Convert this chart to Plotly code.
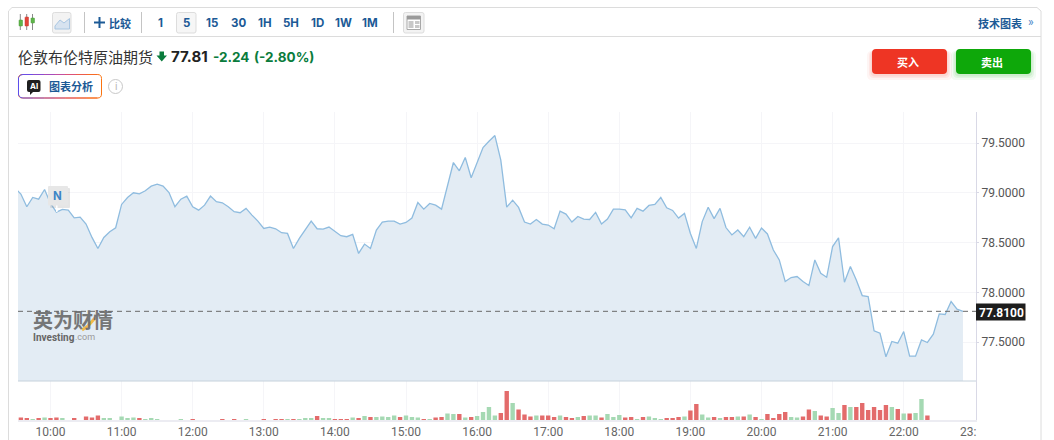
import plotly.graph_objects as go

W, H = 1054, 440

# ---------- data ----------
start_minute = 9 * 60 + 30      # first 5-minute close (clipped by the left edge)
price = [
    79.047, 78.987, 78.860, 78.953, 78.936, 79.033,
    78.893, 78.806, 78.833, 78.826, 78.749, 78.756, 78.686, 78.552, 78.441, 78.552, 78.609, 78.649,
    78.883, 78.953, 79.000, 78.990, 79.020, 79.067, 79.087, 79.067, 79.003, 78.860, 78.936, 78.967,
    78.860, 78.826, 78.876, 78.967, 78.910, 78.900, 78.860, 78.810, 78.800, 78.843, 78.776, 78.716,
    78.642, 78.656, 78.639, 78.599, 78.592, 78.441, 78.542, 78.632, 78.716, 78.639, 78.635, 78.656,
    78.609, 78.569, 78.559, 78.582, 78.391, 78.485, 78.441, 78.625, 78.706, 78.716, 78.716, 78.686,
    78.702, 78.746, 78.903, 78.836, 78.893, 78.876, 78.836, 79.077, 79.304, 79.221, 79.355, 79.151,
    79.301, 79.455, 79.518, 79.575, 79.328, 78.856, 78.926, 78.853, 78.706, 78.686, 78.732, 78.686,
    78.676, 78.639, 78.816, 78.786, 78.706, 78.763, 78.736, 78.732, 78.803, 78.686, 78.736, 78.836,
    78.836, 78.829, 78.749, 78.843, 78.816, 78.873, 78.883, 78.953, 78.849, 78.823, 78.746, 78.793,
    78.592, 78.441, 78.711, 78.855, 78.741, 78.844, 78.651, 78.577, 78.627, 78.560, 78.654, 78.543,
    78.647, 78.587, 78.426, 78.326, 78.109, 78.149, 78.159, 78.109, 78.069, 78.326, 78.192, 78.152,
    78.460, 78.547, 78.102, 78.259, 78.125, 77.968, 77.958, 77.614, 77.590, 77.353, 77.507, 77.490,
    77.607, 77.360, 77.360, 77.523, 77.497, 77.580, 77.784, 77.778, 77.908, 77.831, 77.810,
]
last_price = 77.81

volume_start_minute = 9 * 60 + 35
# positive: up bar (green), negative: down bar (red)
signed_volume = [
    -2.5, -1.2, 0.8, -1.2, 2.5,
    -1.2, -2.5, 1.2, 0, -1.2, 0, -3.5, -2.5, -4.5, 1.2, 1.2, 0,
    3.5, 1.2, 2.5, -1.2, 0.8, 1.2, 0.8, 0, 0, 0, 0.8, 0,
    -0.8, 0, 0, 0, 0, -0.8, 0, -0.8, 0, 0.8, 0, 0,
    -0.8, 0, -0.8, -0.8, 0.8, -0.8, 0.8, 2, 1.2, -4, 2, 2,
    -0.8, -0.8, -0.8, 2.5, -1.2, 4, -3, 3, 3.5, 3, 4.5, -3,
    4.5, 3, 2.5, -1, 0.8, -2.5, -3, 6.5, 6, -6, 2.5, -3,
    4, 8, 13, 4.5, -7, -29, 17, -10.5, -5.5, -3.5, 4.5, -4.5,
    -4.5, -3, 4.5, -3, -2, 3, -4, 4.5, 4.5, -2.5, 6, 3,
    5, -2.5, -3, 1, -3, 3.5, 1.5, 0.8, -2, -2, -3, 3.5,
    -9.5, -16, 5.5, 2.5, -3, 2, -3, -3, 3.5, -3.5, 5.5, -3,
    0.8, -6, -2, -6, -8, 3, 2.5, -3.5, -10.5, 9, -4.5, -3.5,
    12, 7, -15, 13, -13, -17, -10, -13, -10, -15, 13, -11,
    6.5, -6.5, 7, 21, -4.5,
]

time_ticks = [h * 60 for h in range(10, 23)]
time_labels = [f"{h}:00" for h in range(10, 23)]
price_ticks = [77.5, 78.0, 78.5, 79.0, 79.5]
intervals = ["1", "5", "15", "30", "1H", "5H", "1D", "1W", "1M"]
title = "伦敦布伦特原油期货"

# ---------- colours ----------
BLUE = "#1c5a96"
UP = "#a5d9b3"
DOWN = "#e36b6b"
GREEN_TXT = "#0a7c3c"
CJK = "Noto Sans CJK SC"
NUM = "Inter"
AX = "Roboto"

# ---------- pixel helpers for page furniture ----------
def fx(x):
    return x / W

def fy(y):
    return 1 - y / H

shapes = []
annots = []

def path(points, close=False, fill=None, line=None, lw=1, layer="above", opacity=1):
    d = "M" + " L".join(f"{fx(a):.5f},{fy(b):.5f}" for a, b in points) + (" Z" if close else "")
    shapes.append(dict(type="path", path=d, xref="paper", yref="paper", layer=layer, opacity=opacity,
                       fillcolor=fill if fill else "rgba(0,0,0,0)",
                       line=dict(color=line if line else "rgba(0,0,0,0)", width=lw if line else 0)))

def rrect(x0, y0, x1, y1, r=3, fill=None, line=None, lw=1, opacity=1, layer="above"):
    p = lambda a, b: f"{fx(a):.5f},{fy(b):.5f}"
    d = (f"M{p(x0 + r, y0)} L{p(x1 - r, y0)} Q{p(x1, y0)} {p(x1, y0 + r)} L{p(x1, y1 - r)} "
         f"Q{p(x1, y1)} {p(x1 - r, y1)} L{p(x0 + r, y1)} Q{p(x0, y1)} {p(x0, y1 - r)} L{p(x0, y0 + r)} "
         f"Q{p(x0, y0)} {p(x0 + r, y0)} Z")
    shapes.append(dict(type="path", path=d, xref="paper", yref="paper", layer=layer, opacity=opacity,
                       fillcolor=fill if fill else "rgba(0,0,0,0)",
                       line=dict(color=line if line else "rgba(0,0,0,0)", width=lw if line else 0)))

def seg(x0, y0, x1, y1, color, lw=1, dash=None, layer="above"):
    shapes.append(dict(type="line", xref="paper", yref="paper", x0=fx(x0), y0=fy(y0), x1=fx(x1), y1=fy(y1),
                       layer=layer, line=dict(color=color, width=lw, dash=dash or "solid")))

def text(x, y, s, size, color, family=CJK, anchor="center", opacity=1):
    annots.append(dict(x=fx(x), y=fy(y), xref="paper", yref="paper", text=s, showarrow=False, xanchor=anchor,
                       yanchor="middle", borderpad=0, borderwidth=0, opacity=opacity,
                       font=dict(size=size, color=color, family=family)))

# ---------- page frame & toolbar ----------
path([(8.5, 445), (8.5, 11), (12, 7.5), (1037, 7.5), (1041, 11), (1041, 445)], line="#dcdcdc", lw=1)
seg(8.5, 36.5, 1041, 36.5, "#dcdcdc")

# candle icon
for xw in (20.3, 26.7, 32.5):
    seg(xw, 14, xw, 30, "#8a8a8a", 1)
rrect(19, 20, 22.5, 26, 0.5, fill="#5fb54a", line="#4a9a3a", lw=0.5)
rrect(25, 17, 28.5, 26, 0.5, fill="#e2453a", line="#c93a30", lw=0.5)
rrect(31, 18, 34.5, 23, 0.5, fill="#5fb54a", line="#4a9a3a", lw=0.5)

# line-chart icon
rrect(52.5, 12.5, 71, 33, 2, fill="#f3f3f3", line="#dddddd")
path([(55, 26), (60, 20), (64, 23), (69.5, 18.5), (69.5, 29), (55, 29)], close=True, fill="#d7e3f0", line="#a9c6e2", lw=1)

seg(84.5, 12, 84.5, 33, "#c4c4c4")
seg(94, 22.5, 105, 22.5, BLUE, 2)
seg(99.5, 17, 99.5, 28, BLUE, 2)
text(120.5, 22.5, "<b>比较</b>", 11, BLUE)
seg(141.5, 12, 141.5, 33, "#c4c4c4")

rrect(176.5, 12.5, 196, 33, 2, fill="#f6f6f6", line="#dddddd")
interval_x = [160, 186, 212, 238.5, 264.5, 291, 317, 343, 370]
for lab, xc in zip(intervals, interval_x):
    text(xc, 22.5, f"<b>{lab}</b>", 11.5, BLUE, family=NUM)

seg(393.5, 12, 393.5, 33, "#c4c4c4")
rrect(403.5, 12.5, 424, 33, 2, fill="#f3f3f3", line="#dddddd")
rrect(407, 16, 420.5, 29.5, 0, fill="#ffffff", line="#a8a8a8", lw=1)
rrect(407, 16, 420.5, 19.5, 0, fill="#9a9a9a")
rrect(408.5, 21, 413.5, 28, 0, fill="#c8c8c8")
rrect(415, 21, 419.5, 24, 0, fill="#c8c8c8")
rrect(415, 25, 419.5, 28, 0, fill="#c8c8c8")

text(1000, 22.5, "<b>技术图表</b>", 11, BLUE)
text(1030.5, 22, "»", 12, "#4a86c8", family=AX)

# ---------- quote header ----------
text(18, 57, title, 15, "#333333", anchor="left")
path([(159.5, 51.5), (164, 51.5), (164, 55.5), (167, 55.5), (161.75, 61.5), (156.5, 55.5), (159.5, 55.5)],
     close=True, fill=GREEN_TXT)
text(171, 57, "<b>77.81</b>", 15, "#222222", family=NUM, anchor="left")
text(213, 57, "<b>-2.24</b>", 13.5, GREEN_TXT, family=NUM, anchor="left")
text(254, 57, "<b>(-2.80%)</b>", 13.5, GREEN_TXT, family=NUM, anchor="left")

# buy / sell
for x0, col, lab in ((872, "#ee3524", "买入"), (956, "#0ea80a", "卖出")):
    for grow, op in ((5, 0.05), (3, 0.07), (1.5, 0.09)):
        rrect(x0 - grow, 49 + 2, x0 + 75 + grow, 74 + grow + 1, 5, fill=col, opacity=op)
    rrect(x0, 49, x0 + 75, 74, 4, fill=col)
    text(x0 + 35.5, 62, f"<b>{lab}</b>", 11, "#ffffff")

# AI badge with gradient border
grad = ["#6d4ce6", "#8a4bd2", "#a64cbc", "#c44fa0", "#dc5278", "#ec5c4c", "#f66a26"]
rrect(18.5, 74.5, 101.5, 98, 4, fill="#ffffff", line="#fb7310", lw=1)
path([(23, 74.5), (20.5, 75), (18.5, 77.5), (18.5, 95), (20.5, 97.5), (23, 98)], line="#5b4ff0", lw=1)
step = (97.5 - 23) / len(grad)
for i, c in enumerate(grad):
    a = 23 + i * step
    seg(a, 74.5, a + step, 74.5, c, 1)
    seg(a, 98, a + step, 98, c, 1)
rrect(27, 80, 40.5, 92, 2, fill="#1f1f1f")
path([(30, 91), (34, 91), (30, 95)], close=True, fill="#1f1f1f")
text(33.7, 86, "<b>AI</b>", 8, "#ffffff", family=NUM)
text(71, 86, "<b>图表分析</b>", 11, BLUE)
shapes.append(dict(type="circle", xref="paper", yref="paper", x0=fx(108.5), x1=fx(122.5), y0=fy(79.5), y1=fy(93.5),
                   line=dict(color="#c8c8c8", width=1)))
text(115.5, 86.5, "i", 10, "#b5b5b5", family=AX)

# ---------- chart ----------
plot_l, plot_r = 18, 976
top_y, sep_y, bot_y = 112, 381, 420

def minute_at(x):
    return 600 + (x - 50.5) / 71.1 * 60

def price_at(y):
    return 79.5 - (y - 143) / 99.6

x_range = [minute_at(plot_l), minute_at(plot_r)]
grid = "#f5f5f8"

minutes = [start_minute + 5 * i for i in range(len(price))]
vol_minutes = [volume_start_minute + 5 * i for i in range(len(signed_volume))]
vol_heights = [abs(v) for v in signed_volume]
vol_colors = [UP if v > 0 else DOWN for v in signed_volume]

fig = go.Figure()
fig.add_trace(go.Scatter(x=minutes, y=price, mode="lines", fill="tozeroy", fillcolor="#e3ecf4",
                         line=dict(color="#8fbcdf", width=1.3), xaxis="x", yaxis="y", hoverinfo="skip"))
fig.add_trace(go.Bar(x=vol_minutes, y=vol_heights, width=3.7, marker=dict(color=vol_colors, line=dict(width=0)),
                     xaxis="x", yaxis="y2", hoverinfo="skip"))

# price line marker
seg(plot_l, sep_y, plot_r, sep_y, "#c6d2dc", 1)
shapes.append(dict(type="line", xref="paper", yref="y", x0=fx(plot_l), x1=fx(plot_r), y0=last_price, y1=last_price,
                   line=dict(color="#6a6a6a", width=1, dash="5px,4px")))
rrect(976, 303.5, 1025.5, 320.5, 0, fill="#1d1d1d")
text(1001, 312.5, "<b>77.8100</b>", 12, "#ffffff", family=AX)
text(976, 431.5, "23:", 12, "#666666", family=AX, anchor="right")

# news badge
rrect(50, 188, 70, 208, 1, fill="#999999", opacity=0.25)
seg(56.8, 205, 56.8, 212, "#ffffff", 1.5)
rrect(48, 186, 68, 205.5, 1, fill="#e7e7e7")
text(57.5, 196.5, "<b>N</b>", 11.5, "#3d85c6", family=NUM)

# watermark
text(33, 319.5, "<b>英为财情</b>", 20, "#6a6a6a", anchor="left", opacity=0.9)
seg(82, 330, 88, 326, "#f2bb4a", 3)
seg(88, 326, 95, 318, "#f2bb4a", 3)
text(33, 337, "<b>Investing</b>", 10, "#666666", family=AX, anchor="left")
text(75, 337, ".com", 9, "#9a9a9a", family=AX, anchor="left")

fig.update_layout(
    width=W, height=H, margin=dict(l=0, r=0, t=0, b=0), autosize=False,
    paper_bgcolor="#ffffff", plot_bgcolor="rgba(0,0,0,0)", showlegend=False, hovermode=False,
    xaxis=dict(domain=[fx(plot_l), fx(plot_r)], range=x_range, anchor="y2", automargin=False,
               tickmode="array", tickvals=time_ticks, ticktext=time_labels,
               tickfont=dict(family=AX, size=12, color="#666666"),
               showgrid=True, gridcolor=grid, gridwidth=1, zeroline=False,
               showline=True, linecolor="#ececf2", linewidth=2, ticks=""),
    yaxis=dict(domain=[fy(sep_y), fy(top_y)], range=[price_at(sep_y), price_at(top_y)], side="right", anchor="x",
               automargin=False, tickmode="array", tickvals=price_ticks, tickformat=".4f",
               tickfont=dict(family=AX, size=12, color="#555555"),
               showgrid=True, gridcolor=grid, gridwidth=1, zeroline=False,
               showline=True, linecolor="#d9d9e6", linewidth=1, ticks="outside", ticklen=2, tickcolor="#d9d9e6"),
    yaxis2=dict(domain=[fy(bot_y), fy(sep_y)], range=[0, bot_y - sep_y], side="right", anchor="x", automargin=False,
                showticklabels=False, showgrid=False, zeroline=False, ticks="",
                showline=True, linecolor="#d9d9e6", linewidth=1),
    shapes=shapes, annotations=annots,
)

fig.write_html("out.html", config={"displayModeBar": False},
               post_script="document.body.style.margin='0';document.body.style.overflow='hidden';")
